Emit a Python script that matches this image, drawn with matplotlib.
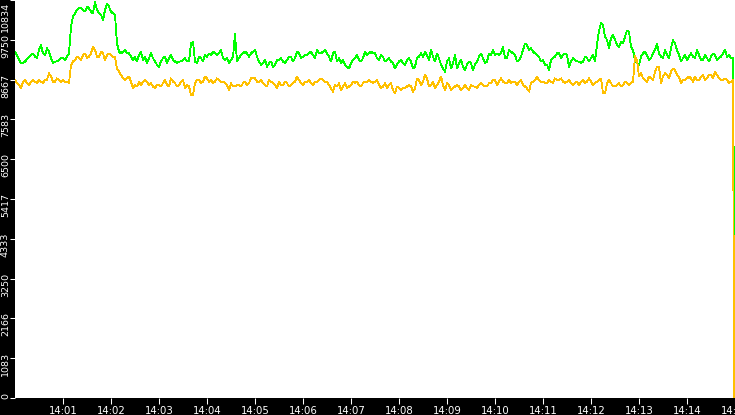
import numpy as np
import matplotlib
matplotlib.use("Agg")
import matplotlib.pyplot as plt
import matplotlib.transforms as mtransforms

# readings every 5 s from 14:00:00 (a) and the ones in between (b, +2.5 s)
t_a = np.arange(0, 900, 5.0)
t_b = t_a + 2.5
t_end = 899

green_a = [
    9430, 9200, 9110, 9220, 9340, 9290, 9470, 9380, 9520, 9250,
    9160, 9200, 9250, 9290, 10110, 10470, 10610, 10560, 10650, 10520,
    10790, 10470, 10290, 10740, 10520, 10430, 9430, 9430, 9380, 9290,
    9290, 9340, 9200, 9110, 9380, 9160, 9020, 9250, 9110, 9340,
    9160, 9160, 9200, 9160, 9650, 9160, 9290, 9160, 9290, 9340,
    9380, 9380, 9250, 9250, 9200, 9900, 9250, 9380, 9380, 9380,
    9470, 9160, 9110, 9020, 9160, 9070, 9200, 9160, 9200, 9290,
    9250, 9380, 9290, 9340, 9430, 9250, 9380, 9430, 9380, 9160,
    9430, 9250, 9200, 9020, 9110, 9250, 9200, 9250, 9340, 9430,
    9380, 9200, 9290, 9200, 9160, 8970, 9160, 9110, 9200, 9160,
    9020, 9290, 9290, 9340, 9470, 9160, 9250, 8970, 9160, 8970,
    9340, 9110, 9020, 9070, 9110, 9070, 9290, 9250, 9160, 9340,
    9340, 9340, 9560, 9250, 9430, 9340, 9200, 9470, 9610, 9520,
    9380, 9290, 9200, 9070, 9200, 9290, 9380, 9340, 9340, 9160,
    9200, 9160, 9160, 9250, 9250, 9160, 10000, 10150, 9750, 9800,
    9750, 9560, 9650, 10000, 9560, 9200, 9070, 9380, 9340, 9250,
    9470, 9380, 9250, 9340, 9520, 9650, 9340, 9250, 9200, 9380,
    9250, 9340, 9200, 9250, 9290, 9340, 9250, 9380, 9290, 9250,
]
green_b = [
    9340, 9110, 9160, 9290, 9380, 9250, 9610, 9340, 9430, 9110,
    9160, 9250, 9200, 9380, 10380, 10560, 10610, 10520, 10610, 10470,
    10560, 10430, 10560, 10650, 10470, 9650, 9380, 9470, 9380, 9200,
    9160, 9430, 9290, 9250, 9250, 9070, 9160, 9290, 9250, 9200,
    9110, 9160, 9250, 9160, 9700, 9110, 9250, 9340, 9380, 9430,
    9340, 9470, 9200, 9110, 9290, 9160, 9340, 9430, 9290, 9430,
    9290, 9070, 9200, 9110, 9020, 9200, 9250, 9110, 9290, 9160,
    9430, 9250, 9340, 9380, 9340, 9470, 9380, 9470, 9290, 9380,
    9160, 9110, 9070, 8970, 9200, 9340, 9160, 9430, 9380, 9380,
    9250, 9340, 9160, 9250, 9110, 9070, 9200, 9070, 9250, 8970,
    9250, 9380, 9430, 9200, 9290, 9380, 9070, 8880, 9250, 9110,
    8970, 9200, 8930, 9160, 8930, 9160, 9380, 9110, 9380, 9470,
    9380, 9380, 9250, 9470, 9380, 9160, 9290, 9650, 9470, 9430,
    9340, 9160, 9070, 8930, 9250, 9380, 9250, 9380, 9020, 9250,
    9160, 9110, 9290, 9160, 9340, 9610, 10200, 9840, 9520, 9880,
    9610, 9700, 9840, 9970, 9470, 9110, 9290, 9430, 9200, 9380,
    9650, 9290, 9470, 9250, 9740, 9470, 9160, 9340, 9290, 9290,
    9470, 9200, 9340, 9160, 9380, 9200, 9290, 9470, 9340, 9250,
]
green_end = 4350

orange_a = [
    8660, 8520, 8610, 8570, 8610, 8610, 8660, 8570, 8660, 8750,
    8610, 8660, 8660, 8610, 9060, 9200, 9250, 9340, 9250, 9380,
    9470, 9290, 9380, 9340, 9340, 9290, 8880, 8700, 8700, 8610,
    8520, 8610, 8610, 8610, 8570, 8430, 8520, 8570, 8520, 8700,
    8570, 8520, 8660, 8520, 8250, 8570, 8660, 8610, 8700, 8660,
    8610, 8660, 8610, 8520, 8570, 8480, 8520, 8570, 8520, 8700,
    8700, 8610, 8570, 8480, 8610, 8520, 8610, 8520, 8570, 8520,
    8610, 8660, 8520, 8610, 8570, 8610, 8660, 8660, 8610, 8430,
    8520, 8570, 8480, 8430, 8520, 8570, 8520, 8570, 8610, 8610,
    8610, 8520, 8480, 8430, 8570, 8290, 8430, 8430, 8480, 8480,
    8430, 8660, 8610, 8700, 8520, 8430, 8610, 8520, 8570, 8380,
    8480, 8480, 8430, 8430, 8520, 8480, 8520, 8520, 8480, 8570,
    8660, 8610, 8610, 8570, 8570, 8610, 8610, 8520, 8430, 8570,
    8660, 8660, 8610, 8570, 8610, 8700, 8660, 8610, 8610, 8570,
    8570, 8520, 8660, 8610, 8610, 8570, 8660, 8300, 8570, 8570,
    8480, 8570, 8520, 8570, 8570, 9300, 8750, 8700, 8610, 8700,
    8880, 9020, 8750, 8790, 8880, 8930, 8750, 8660, 8700, 8700,
    8750, 8660, 8790, 8700, 8790, 8880, 8700, 8660, 8660, 8610,
]
orange_b = [
    8570, 8430, 8660, 8520, 8660, 8570, 8610, 8660, 8840, 8610,
    8700, 8610, 8610, 8570, 9160, 9290, 9200, 9380, 9290, 9560,
    9290, 9430, 9200, 9380, 9290, 8970, 8790, 8660, 8750, 8430,
    8480, 8520, 8660, 8520, 8480, 8520, 8480, 8660, 8480, 8610,
    8480, 8610, 8430, 8480, 8250, 8660, 8570, 8750, 8610, 8570,
    8700, 8610, 8570, 8380, 8480, 8520, 8480, 8610, 8570, 8700,
    8610, 8660, 8520, 8660, 8570, 8430, 8520, 8610, 8480, 8570,
    8750, 8570, 8610, 8660, 8520, 8610, 8700, 8610, 8520, 8340,
    8480, 8380, 8570, 8480, 8610, 8610, 8480, 8610, 8660, 8570,
    8660, 8430, 8570, 8520, 8380, 8480, 8380, 8430, 8520, 8340,
    8700, 8520, 8790, 8480, 8610, 8520, 8750, 8380, 8520, 8430,
    8520, 8380, 8520, 8380, 8480, 8430, 8570, 8480, 8570, 8660,
    8520, 8700, 8570, 8660, 8610, 8520, 8660, 8480, 8340, 8610,
    8750, 8610, 8570, 8660, 8570, 8660, 8700, 8570, 8660, 8520,
    8610, 8610, 8570, 8700, 8520, 8610, 8700, 8290, 8660, 8480,
    8520, 8480, 8610, 8520, 8610, 9200, 8840, 8660, 8750, 8660,
    9020, 8570, 8840, 8700, 8970, 8790, 8570, 8660, 8750, 8610,
    8660, 8750, 8660, 8790, 8700, 8790, 8660, 8700, 8570, 8660,
]
orange_end = 0

y_ticks = [0, 1083, 2166, 3250, 4333, 5417, 6500, 7583, 8667, 9750, 10834]
x_ticks = [60 * m for m in range(1, 16)]
x_labels = ["14:%02d" % m for m in range(1, 16)]


def merge(ta, ya, tb, yb, y_last):
    t = np.concatenate([ta, tb, [t_end]])
    y = np.concatenate([ya, yb, [y_last]])
    order = np.argsort(t, kind="stable")
    return t[order], y[order]


tg, yg = merge(t_a, green_a, t_b, green_b, green_end)
to, yo = merge(t_a, orange_a, t_b, orange_b, orange_end)

fig = plt.figure(figsize=(7.35, 4.15), dpi=100, facecolor="black")
ax = fig.add_axes([15 / 735, 17 / 415, 720 / 735, 398 / 415])
ax.set_facecolor("white")

ax.plot(tg, yg, color="#00ff00", lw=0.6, antialiased=False)
ax.plot(to, yo, color="#ffc000", lw=0.6, antialiased=False)

ax.set_xlim(0, 900)
ax.set_ylim(0, 10834)
for s in ax.spines.values():
    s.set_visible(False)

ax.set_xticks(x_ticks)
ax.set_xticklabels(x_labels)
ax.tick_params(axis="x", colors="white", labelcolor="white", length=4.2,
               width=0.75, pad=1.2, labelsize=7.3)

# y labels drawn by hand: rotated, sitting a bit below each tick
ax.set_yticks(y_ticks)
ax.set_yticklabels([])
ax.tick_params(axis="y", colors="white", length=3.6, width=0.75)
ytr = ax.get_yaxis_transform()
for v in y_ticks:
    if v == y_ticks[-1]:
        tr = mtransforms.offset_copy(ytr, fig=fig, x=-9.5, y=-2, units="dots")
        va = "top"
    elif v == 0:
        tr = mtransforms.offset_copy(ytr, fig=fig, x=-9.5, y=-1, units="dots")
        va = "bottom"
    else:
        tr = mtransforms.offset_copy(ytr, fig=fig, x=-9.5, y=-6, units="dots")
        va = "center"
    ax.text(0, v, str(v), transform=tr, rotation=90, ha="center", va=va,
            color="white", fontsize=6.8, clip_on=False)

fig.savefig("out.png", dpi=100, facecolor="black")
